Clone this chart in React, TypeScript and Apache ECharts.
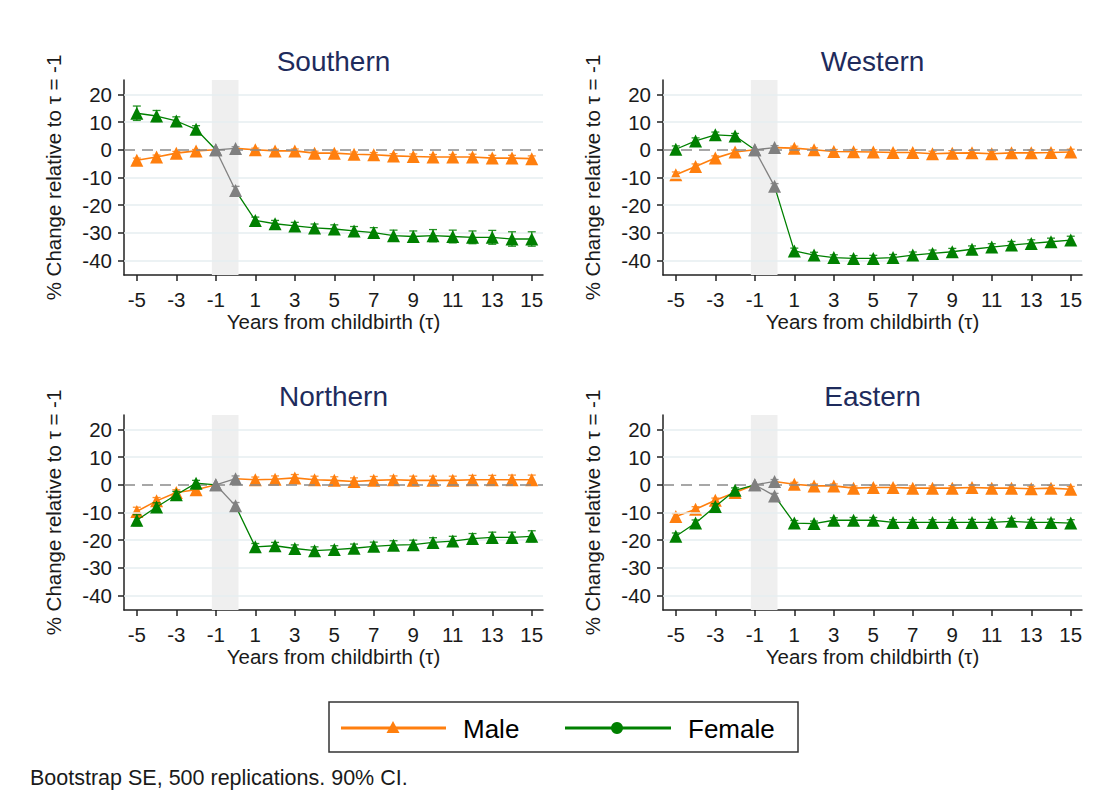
import React, { useEffect, useRef } from "react";
import * as echarts from "echarts";

const tau = [-5, -4, -3, -2, -1, 0, 1, 2, 3, 4, 5, 6, 7, 8, 9, 10, 11, 12, 13, 14, 15];
const xTickValues = [-5, -3, -1, 1, 3, 5, 7, 9, 11, 13, 15];
const yTickValues = [-40, -30, -20, -10, 0, 10, 20];

const regions = ["Southern", "Western", "Northern", "Eastern"];

const maleSouthern = [-3.8, -2.6, -1.2, -0.4, 0, 0.5, 0, -0.4, -0.4, -1.2, -1.2, -1.6, -1.8, -2.2, -2.4, -2.6, -2.6, -2.6, -3, -3, -3.2];
const femaleSouthern = [13.2, 12.2, 10.4, 7.4, 0, -14.7, -25.5, -26.7, -27.5, -28.2, -28.6, -29.3, -29.9, -31, -31.3, -31, -31.3, -31.6, -31.6, -32.2, -32.2];
const maleWestern = [-9, -6, -3, -0.8, 0, 0.8, 0.6, 0, -0.6, -0.7, -0.8, -1, -1, -1.4, -1.2, -1.1, -1.4, -1.1, -1.1, -1, -0.8];
const femaleWestern = [0.2, 3.2, 5.4, 5, 0, -13.2, -36.5, -38, -38.9, -39.2, -39.2, -38.9, -38, -37.4, -36.8, -35.9, -35.1, -34.4, -33.8, -33.2, -32.6];
const maleNorthern = [-9.6, -5.8, -2.8, -1.8, 0, 2.2, 1.8, 2, 2.5, 1.8, 1.6, 1.2, 1.6, 1.8, 1.6, 1.6, 1.6, 1.8, 1.8, 1.8, 1.8];
const femaleNorthern = [-12.8, -8, -3.6, 0.6, 0, -7.6, -22.4, -22, -23, -23.8, -23.4, -22.9, -22.2, -21.8, -21.6, -20.8, -20.3, -19.4, -19, -19, -18.6];
const maleEastern = [-11.4, -8.8, -5.6, -2.8, 0, 1.2, 0.2, -0.4, -0.4, -1.2, -1, -1, -1.2, -1.2, -1.2, -1, -1.2, -1.2, -1.4, -1.2, -1.6];
const femaleEastern = [-18.6, -13.8, -7.8, -2, 0, -4, -13.8, -14, -12.8, -12.8, -12.8, -13.6, -13.6, -13.6, -13.6, -13.6, -13.6, -13.2, -13.6, -13.6, -13.8];

// 90% CI half-widths
const maleSouthernCI = [0.8, 0.7, 0.6, 0.5, 0, 0.6, 0.6, 0.6, 0.7, 0.7, 0.7, 0.8, 0.8, 0.8, 0.9, 0.9, 0.9, 1, 1, 1, 1];
const femaleSouthernCI = [2.6, 2, 1.5, 1.3, 0, 1.5, 1.2, 1.2, 1.3, 1.4, 1.5, 1.6, 1.8, 2, 2, 2.2, 2.3, 2.3, 2.5, 2.6, 2.6];
const maleWesternCI = [1, 0.9, 0.8, 0.7, 0, 0.7, 0.7, 0.7, 0.7, 0.8, 0.8, 0.8, 0.8, 0.9, 0.9, 0.9, 0.9, 0.9, 1, 1, 1];
const femaleWesternCI = [1.2, 1.1, 1, 0.9, 0, 1, 1, 1, 1, 1, 1.1, 1.1, 1.1, 1.2, 1.2, 1.2, 1.2, 1.3, 1.3, 1.3, 1.4];
const maleNorthernCI = [1.5, 1.2, 1, 0.8, 0, 1, 1, 1.2, 1.2, 1.3, 1.3, 1.3, 1.4, 1.4, 1.5, 1.5, 1.5, 1.6, 1.6, 1.7, 1.7];
const femaleNorthernCI = [2, 1.5, 1.2, 1, 0, 1.2, 1.2, 1.2, 1.3, 1.4, 1.4, 1.5, 1.5, 1.6, 1.6, 1.7, 1.7, 1.8, 1.9, 1.9, 2];
const maleEasternCI = [1, 0.9, 0.8, 0.7, 0, 0.7, 0.7, 0.7, 0.7, 0.8, 0.8, 0.8, 0.8, 0.8, 0.9, 0.9, 0.9, 0.9, 0.9, 1, 1];
const femaleEasternCI = [1.2, 1.1, 1, 0.9, 0, 0.9, 0.9, 0.9, 0.9, 1, 1, 1, 1, 1, 1, 1.1, 1.1, 1.1, 1.1, 1.2, 1.2];

const maleSeries = [maleSouthern, maleWestern, maleNorthern, maleEastern];
const femaleSeries = [femaleSouthern, femaleWestern, femaleNorthern, femaleEastern];
const maleCIs = [maleSouthernCI, maleWesternCI, maleNorthernCI, maleEasternCI];
const femaleCIs = [femaleSouthernCI, femaleWesternCI, femaleNorthernCI, femaleEasternCI];

const MALE = "#ff7f0e";
const FEMALE = "#008000";
const GRAY = "#808080";
const FONT = "'Liberation Sans', Arial, sans-serif";
const TXT = "#1a1a1a";

const grids = [
  { left: 124, top: 80, width: 419, height: 195 },
  { left: 663, top: 80, width: 419, height: 195 },
  { left: 124, top: 415, width: 419, height: 195 },
  { left: 663, top: 415, width: 419, height: 195 },
];

function buildOption() {
  const xAxes: any[] = [];
  const yAxes: any[] = [];
  const series: any[] = [];
  const titles: any[] = [];

  grids.forEach((g, i) => {
    titles.push({
      text: regions[i],
      left: g.left + g.width / 2 - 5,
      top: g.top - 38,
      textAlign: "center",
      textStyle: { fontFamily: FONT, fontSize: 28, fontWeight: "normal", color: "#1e2b5c" },
    });
    xAxes.push({
      type: "value",
      gridIndex: i,
      min: -5.65,
      max: 15.57,
      name: "Years from childbirth (τ)",
      nameLocation: "middle",
      nameGap: 35,
      nameTextStyle: { fontFamily: FONT, fontSize: 20.5, color: TXT },
      axisLine: { show: true, onZero: false, lineStyle: { color: "#222", width: 1.5 } },
      axisTick: { show: true, customValues: xTickValues, length: 6, lineStyle: { color: "#222", width: 1.5 } },
      axisLabel: { customValues: xTickValues, margin: 14, fontFamily: FONT, fontSize: 20.5, color: TXT },
      splitLine: { show: false },
    });
    yAxes.push({
      type: "value",
      gridIndex: i,
      min: -45.2,
      max: 25.2,
      name: "% Change relative to τ = -1",
      nameLocation: "middle",
      nameGap: 60,
      nameTextStyle: { fontFamily: FONT, fontSize: 20.5, color: TXT },
      axisLine: { show: true, onZero: false, lineStyle: { color: "#222", width: 1.5 } },
      axisTick: { show: true, customValues: yTickValues, length: 6, lineStyle: { color: "#222", width: 1.5 } },
      axisLabel: { customValues: yTickValues, margin: 12, fontFamily: FONT, fontSize: 20.5, color: TXT },
      splitLine: { show: false },
    });

    // background gridlines and zero line
    series.push({
      type: "line",
      xAxisIndex: i,
      yAxisIndex: i,
      data: [[-5, 0]],
      symbol: "none",
      lineStyle: { opacity: 0 },
      silent: true,
      z: 1,
      markLine: {
        silent: true,
        symbol: "none",
        label: { show: false },
        data: [
          ...yTickValues.filter((v) => v !== 0).map((v) => ({ yAxis: v, lineStyle: { color: "#e6eef1", width: 1.5, type: "solid" } })),
          { yAxis: 0, lineStyle: { color: "#8a8a8a", width: 1.5, type: [11, 7] } },
        ],
      },
    });
    // shaded area
    series.push({
      type: "line",
      xAxisIndex: i,
      yAxisIndex: i,
      data: [[-5, 0]],
      symbol: "none",
      lineStyle: { opacity: 0 },
      silent: true,
      z: 2,
      markArea: {
        silent: true,
        itemStyle: { color: "#efefef" },
        data: [[{ xAxis: -1.2 }, { xAxis: 0.15 }]],
      },
    });

    const addGender = (vals: number[], ci: number[], color: string, name: string, lw: number, zb: number) => {
      const pts = tau.map((t, k) => [t, vals[k]]);
      // error bars
      series.push({
        type: "custom",
        xAxisIndex: i,
        yAxisIndex: i,
        silent: true,
        z: zb,
        data: tau
          .map((t, k) => [t, vals[k] - ci[k], vals[k] + ci[k], t === 0 ? 1 : 0])
          .filter((d, k) => ci[k] > 0),
        encode: { x: 0, y: [1, 2] },
        renderItem: (params: any, api: any) => {
          const x = api.value(0);
          const top = api.coord([x, api.value(2)]);
          const bot = api.coord([x, api.value(1)]);
          const c = api.value(3) === 1 ? GRAY : color;
          const w = 4;
          const st = { stroke: c, lineWidth: 1.3, opacity: 0.85 };
          return {
            type: "group",
            children: [
              { type: "line", shape: { x1: top[0], y1: top[1], x2: bot[0], y2: bot[1] }, style: st },
              { type: "line", shape: { x1: top[0] - w, y1: top[1], x2: top[0] + w, y2: top[1] }, style: st },
              { type: "line", shape: { x1: bot[0] - w, y1: bot[1], x2: bot[0] + w, y2: bot[1] }, style: st },
            ],
          };
        },
      });
      // pre segment
      series.push({
        type: "line",
        name,
        xAxisIndex: i,
        yAxisIndex: i,
        z: zb + 1,
        data: pts.slice(0, 5).map((p, k) => (k === 4 ? { value: p, symbol: "none" } : p)),
        symbol: "triangle",
        symbolSize: 13,
        itemStyle: { color },
        lineStyle: { color, width: lw },
      });
      // post segment
      series.push({
        type: "line",
        name,
        xAxisIndex: i,
        yAxisIndex: i,
        z: zb + 1,
        data: pts.slice(5).map((p, k) => (k === 0 ? { value: p, symbol: "none" } : p)),
        symbol: "triangle",
        symbolSize: 13,
        itemStyle: { color },
        lineStyle: { color, width: lw },
      });
      // gray segment
      series.push({
        type: "line",
        name,
        xAxisIndex: i,
        yAxisIndex: i,
        z: 10,
        data: pts.slice(4, 6),
        symbol: "triangle",
        symbolSize: 13,
        itemStyle: { color: GRAY },
        lineStyle: { color: GRAY, width: 1.3 },
      });
    };

    addGender(maleSeries[i], maleCIs[i], MALE, "Male", 1.6, 3);
    addGender(femaleSeries[i], femaleCIs[i], FEMALE, "Female", 1.3, 5);
  });

  const graphic = [
    {
      type: "rect",
      shape: { x: 329, y: 702, width: 469, height: 50 },
      style: { fill: "#fff", stroke: "#333", lineWidth: 1.5 },
    },
    { type: "line", shape: { x1: 341, y1: 728, x2: 446, y2: 728 }, style: { stroke: MALE, lineWidth: 3 } },
    { type: "polygon", shape: { points: [[393, 721], [386.5, 733], [399.5, 733]] }, style: { fill: MALE } },
    {
      type: "text",
      x: 463,
      y: 729,
      style: { text: "Male", fontFamily: FONT, fontSize: 26, fill: "#000", verticalAlign: "middle", align: "left" },
    },
    { type: "line", shape: { x1: 565, y1: 728, x2: 671, y2: 728 }, style: { stroke: FEMALE, lineWidth: 3 } },
    { type: "circle", shape: { cx: 617, cy: 728, r: 6 }, style: { fill: FEMALE } },
    {
      type: "text",
      x: 688,
      y: 729,
      style: { text: "Female", fontFamily: FONT, fontSize: 26, fill: "#000", verticalAlign: "middle", align: "left" },
    },
    {
      type: "text",
      x: 30,
      y: 778,
      style: {
        text: "Bootstrap SE, 500 replications. 90% CI.",
        fontFamily: FONT,
        fontSize: 21.5,
        fill: TXT,
        verticalAlign: "middle",
        align: "left",
      },
    },
  ];

  return {
    animation: false,
    backgroundColor: "#ffffff",
    title: titles,
    grid: grids,
    xAxis: xAxes,
    yAxis: yAxes,
    series,
    graphic,
  };
}

export default function App() {
  const ref = useRef<HTMLDivElement>(null);
  useEffect(() => {
    if (!ref.current) return;
    const chart = echarts.init(ref.current, undefined, { renderer: "svg" });
    chart.setOption(buildOption() as any);
    return () => chart.dispose();
  }, []);
  return (
    <div
      ref={ref}
      style={{ position: "absolute", left: 0, top: 0, width: 1111, height: 812, background: "#fff" }}
    />
  );
}
